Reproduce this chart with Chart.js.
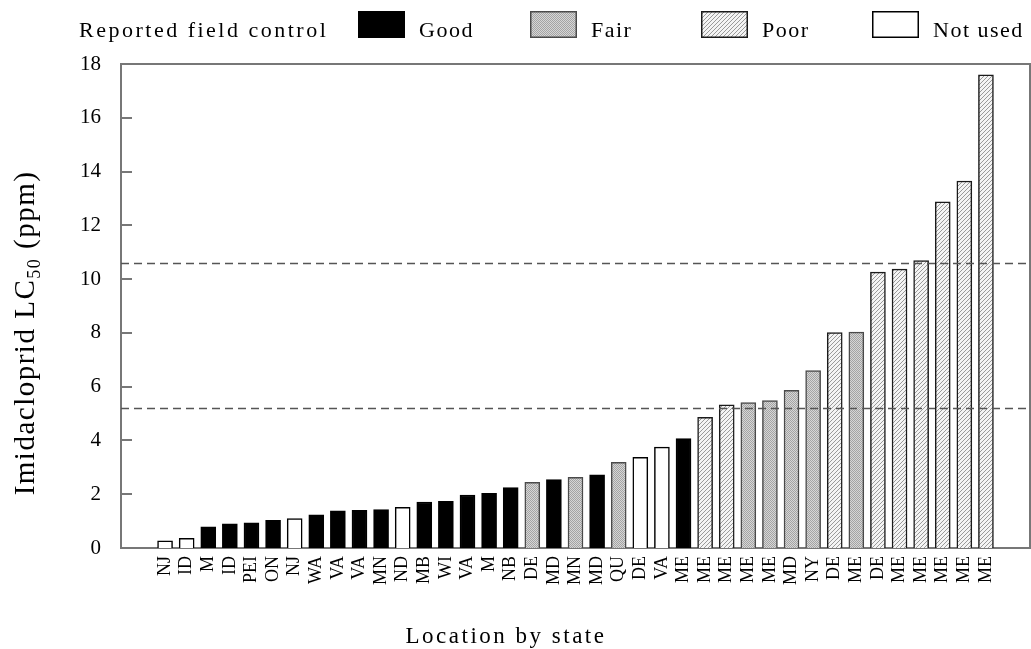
<!DOCTYPE html>
<html>
<head>
<meta charset="utf-8">
<script src="https://cdn.jsdelivr.net/npm/chart.js@4/dist/chart.umd.min.js"></script>
<style>
  html, body { margin: 0; padding: 0; background: #fff; }
  canvas { display: block; }
</style>
</head>
<body>
<canvas id="chart" width="1031" height="649"></canvas>
<script>
// Populations, in order of increasing LC50
const states = ['NJ', 'ID', 'M', 'ID', 'PEI', 'ON', 'NJ', 'WA', 'VA', 'VA', 'MN', 'ND', 'MB',
  'WI', 'VA', 'M', 'NB', 'DE', 'MD', 'MN', 'MD', 'QU', 'DE', 'VA', 'ME', 'ME', 'ME', 'ME',
  'ME', 'MD', 'NY', 'DE', 'ME', 'DE', 'ME', 'ME', 'ME', 'ME', 'ME'];

// Imidacloprid LC50 (ppm)
const lc50 = [0.27, 0.36, 0.79, 0.90, 0.94, 1.03, 1.09, 1.23, 1.38, 1.40, 1.43, 1.51, 1.71,
  1.74, 1.97, 2.03, 2.25, 2.44, 2.54, 2.63, 2.72, 3.19, 3.37, 3.75, 4.07, 4.86, 5.32, 5.41,
  5.48, 5.86, 6.60, 8.01, 8.03, 10.26, 10.37, 10.69, 12.87, 13.65, 17.60];

// Reported field control for each population
const control = ['Not used', 'Not used', 'Good', 'Good', 'Good', 'Good', 'Not used', 'Good',
  'Good', 'Good', 'Good', 'Not used', 'Good', 'Good', 'Good', 'Good', 'Good', 'Fair', 'Good',
  'Fair', 'Good', 'Fair', 'Not used', 'Not used', 'Good', 'Poor', 'Poor', 'Fair', 'Fair',
  'Fair', 'Fair', 'Poor', 'Fair', 'Poor', 'Poor', 'Poor', 'Poor', 'Poor', 'Poor'];

const controlLevels = ['Good', 'Fair', 'Poor', 'Not used'];

// Reference levels drawn as dashed lines
const thresholds = [5.2, 10.6];

// Y-axis tick labels
const yTicks = [0, 2, 4, 6, 8, 10, 12, 14, 16, 18];

const canvas = document.getElementById('chart');
const ctx = canvas.getContext('2d');
const SERIF = "'Liberation Serif', 'Times New Roman', serif";

// Fill textures
function tile(size, paint) {
  const c = document.createElement('canvas');
  c.width = size; c.height = size;
  const g = c.getContext('2d');
  paint(g);
  return ctx.createPattern(c, 'repeat');
}
const stipple = tile(2, g => {
  g.fillStyle = '#d6d6d6'; g.fillRect(0, 0, 2, 2);
  g.fillStyle = '#a4a4a4'; g.fillRect(0, 0, 1, 1); g.fillRect(1, 1, 1, 1);
});
const hatch = tile(4, g => {
  g.fillStyle = '#f4f4f4'; g.fillRect(0, 0, 4, 4);
  g.fillStyle = '#9a9a9a';
  for (let i = 0; i < 4; i++) g.fillRect(i, 3 - i, 1, 1);
});

const styles = {
  'Good':     { fill: '#000000', stroke: '#000000' },
  'Fair':     { fill: stipple,   stroke: '#4a4a4a' },
  'Poor':     { fill: hatch,     stroke: '#1a1a1a' },
  'Not used': { fill: '#ffffff', stroke: '#000000' }
};

const AXIS_COLOR = '#777777';

// Plot frame, inward ticks and dashed reference lines
const framePlugin = {
  id: 'frame',
  afterDatasetsDraw(chart) {
    const { ctx: c, chartArea: a, scales: { y } } = chart;
    c.save();
    c.strokeStyle = '#555555';
    c.lineWidth = 1.5;
    c.setLineDash([8, 5]);
    thresholds.forEach(t => {
      const py = Math.round(y.getPixelForValue(t)) + 0.5;
      c.beginPath(); c.moveTo(a.left, py); c.lineTo(a.right, py); c.stroke();
    });
    c.setLineDash([]);
    c.strokeStyle = AXIS_COLOR;
    c.lineWidth = 2;
    c.beginPath();
    c.moveTo(a.left, a.top); c.lineTo(a.right, a.top); c.lineTo(a.right, a.bottom);
    c.stroke();
    yTicks.forEach(v => {
      const py = Math.round(y.getPixelForValue(v));
      c.beginPath(); c.moveTo(a.left, py); c.lineTo(a.left + 11, py); c.stroke();
    });
    c.restore();
  }
};

// Titles and legend
const textPlugin = {
  id: 'texts',
  afterDraw(chart) {
    const c = chart.ctx;
    c.save();
    c.fillStyle = '#000';
    c.textBaseline = 'alphabetic';

    // Legend
    c.font = '22px ' + SERIF;
    c.letterSpacing = '2.5px';
    c.textAlign = 'left';
    c.fillText('Reported field control', 79, 37);
    c.letterSpacing = '1.5px';
    const boxX = { 'Good': 358, 'Fair': 530, 'Poor': 701, 'Not used': 872 };
    controlLevels.forEach(k => {
      const x = boxX[k];
      c.fillStyle = styles[k].fill;
      c.fillRect(x, 11, 47, 27);
      c.strokeStyle = k === 'Good' ? '#000' : styles[k].stroke;
      c.lineWidth = 1.5;
      c.strokeRect(x + 0.75, 11.75, 45.5, 25.5);
      c.fillStyle = '#000';
      c.fillText(k, x + 61, 37);
    });

    // X-axis title
    c.textAlign = 'center';
    c.letterSpacing = '2.5px';
    c.font = '23px ' + SERIF;
    c.fillText('Location by state', 506, 643);

    // Y-axis title with subscript
    c.letterSpacing = '1.5px';
    c.translate(34, 333);
    c.rotate(-Math.PI / 2);
    const parts = [
      { t: 'Imidacloprid LC', size: 29, dy: 0 },
      { t: '50', size: 18, dy: 6 },
      { t: ' (ppm)', size: 29, dy: 0 }
    ];
    let total = 0;
    parts.forEach(p => { c.font = p.size + 'px ' + SERIF; p.w = c.measureText(p.t).width; total += p.w; });
    let x = -total / 2;
    c.textAlign = 'left';
    parts.forEach(p => {
      c.font = p.size + 'px ' + SERIF;
      c.fillText(p.t, x, p.dy);
      x += p.w;
    });
    c.restore();
  }
};

new Chart(ctx, {
  type: 'bar',
  data: {
    datasets: [{
      data: lc50.map((v, i) => ({ x: i, y: v })),
      backgroundColor: control.map(k => styles[k].fill),
      borderColor: control.map(k => styles[k].stroke),
      borderWidth: 1.5,
      borderSkipped: 'start',
      barThickness: 15
    }]
  },
  options: {
    responsive: false,
    animation: false,
    devicePixelRatio: 1,
    layout: { padding: { left: 0, right: 1, top: 64, bottom: 0 } },
    plugins: {
      legend: { display: false },
      tooltip: { enabled: false }
    },
    scales: {
      x: {
        type: 'linear',
        min: -1.5,
        max: 39.5,
        afterBuildTicks: s => { s.ticks = states.map((_, i) => ({ value: i })); },
        afterFit: s => { s.height = 101; },
        ticks: {
          autoSkip: false,
          minRotation: 90,
          maxRotation: 90,
          padding: 8,
          color: '#000',
          font: { family: SERIF, size: 18 },
          callback: v => states[v]
        },
        grid: { display: false, drawTicks: false },
        border: { display: true, color: AXIS_COLOR, width: 2 }
      },
      y: {
        min: 0,
        max: 18,
        afterBuildTicks: s => { s.ticks = yTicks.map(v => ({ value: v })); },
        afterFit: s => { s.width = 121; },
        ticks: {
          padding: 20,
          color: '#000',
          font: { family: SERIF, size: 21 },
          callback: v => String(v)
        },
        grid: { display: false, drawTicks: false },
        border: { display: true, color: AXIS_COLOR, width: 2 }
      }
    }
  },
  plugins: [framePlugin, textPlugin]
});
</script>
</body>
</html>
